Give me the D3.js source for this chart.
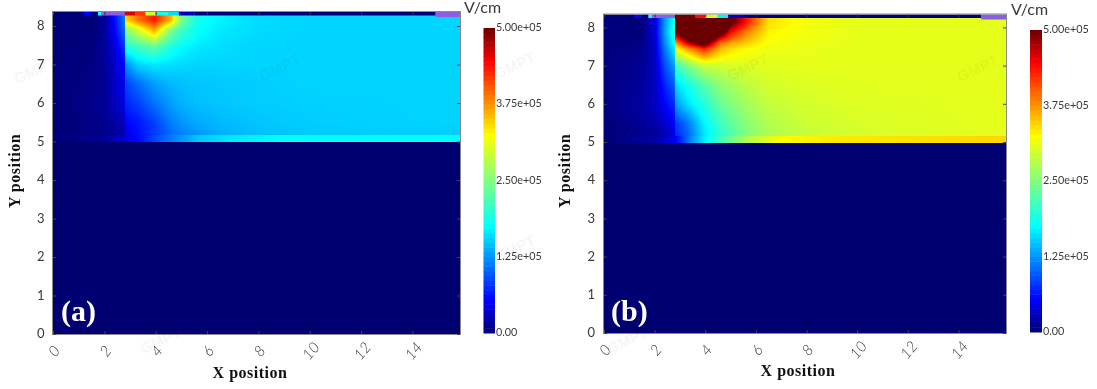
<!DOCTYPE html>
<html><head><meta charset="utf-8">
<script src="https://cdn.jsdelivr.net/npm/d3@7"></script>
<style>
html,body{margin:0;padding:0;background:#fff;overflow:hidden}
#wrap{position:relative;width:1097px;height:389px;filter:blur(.4px)}
canvas{position:absolute}
svg{position:absolute;left:0;top:0}
</style></head><body><div id="wrap"></div>
<script>
// Electric field, in units of 1e5 V/cm at nodes of a coarse mesh.
// Values above 5 saturate the colour scale, as the darkest region of panel (b) does.
const xNodes=[0,0.5,1,1.5,2,2.4,2.79,2.81,3.3,3.95,4.6,5.0,5.6,6.5,8,10,16];
const yNodes=[8.15,7.9,7.6,7.45,7,6.5,6,5.5,5.18];
const bandY=[5.17,5.0];
const fieldA=[
[.03,.03,.03,.02,.15,.60,1.15,3.40,3.90,4.35,3.60,2.50,1.85,1.70,1.58,1.55,1.55],
[.03,.03,.03,.02,.15,.55,1.05,2.50,3.00,3.70,2.50,2.10,1.80,1.65,1.58,1.55,1.55],
[.03,.03,.04,.04,.15,.45,.90,2.10,2.40,2.75,2.10,1.90,1.70,1.62,1.56,1.55,1.55],
[.03,.03,.04,.05,.15,.42,.80,1.90,2.10,2.30,1.90,1.75,1.65,1.60,1.55,1.55,1.55],
[.03,.04,.05,.06,.15,.35,.60,1.20,1.55,1.65,1.60,1.58,1.55,1.55,1.55,1.55,1.55],
[.03,.05,.06,.08,.15,.32,.50,.85,1.05,1.30,1.42,1.45,1.48,1.50,1.52,1.55,1.55],
[.03,.05,.07,.10,.15,.30,.45,.70,.85,1.10,1.30,1.40,1.45,1.48,1.52,1.53,1.55],
[.02,.04,.06,.08,.12,.20,.30,.55,.65,.85,1.15,1.25,1.35,1.42,1.48,1.52,1.55],
[.02,.03,.05,.07,.10,.15,.25,.45,.60,.80,1.05,1.15,1.25,1.38,1.45,1.50,1.52]];
const fieldB=[
[.05,.05,.03,.05,.40,1.25,1.90,7.00,7.00,7.00,7.00,5.20,4.40,3.40,3.18,3.10,3.10],
[.05,.05,.03,.05,.40,1.30,2.00,5.00,6.20,7.00,5.50,4.50,3.90,3.30,3.18,3.10,3.10],
[.05,.05,.05,.08,.35,1.20,1.85,3.60,4.60,5.40,3.90,3.70,3.50,3.20,3.15,3.10,3.10],
[.05,.06,.07,.10,.32,1.10,1.70,3.20,3.70,4.30,3.60,3.40,3.25,3.15,3.12,3.10,3.10],
[.05,.08,.10,.15,.30,.90,1.30,2.05,2.45,2.90,2.95,3.00,3.05,3.08,3.10,3.10,3.10],
[.05,.09,.12,.18,.30,.70,1.00,1.55,1.85,2.25,2.60,2.70,2.85,3.00,3.05,3.08,3.10],
[.05,.10,.15,.20,.30,.55,.75,1.25,1.60,1.95,2.35,2.50,2.70,2.90,3.00,3.05,3.10],
[.03,.07,.10,.15,.22,.35,.55,.80,1.10,1.70,2.10,2.30,2.55,2.80,2.95,3.02,3.10],
[.02,.05,.08,.10,.15,.25,.40,.70,1.00,1.60,2.00,2.20,2.50,2.75,2.90,3.00,3.10]];
const bandXNodes=[0,2,2.8,3.5,4,4.8,5.7,7,9,16];
const bandA=[.03,.15,.40,.65,.90,1.20,1.50,1.65,1.75,1.75];
const bandB=[.03,.20,.50,1.25,1.70,2.25,2.80,3.25,3.35,3.45];
// Contact strip along the top of the device
const stripStart=[0,1.2,1.5,1.75,1.9,2.8,3.2,3.6,4.0,4.5,4.9,5.5,14.9];
const stripEnd=[1.2,1.5,1.75,1.9,2.8,3.2,3.6,4.0,4.5,4.9,5.5,14.9,15.9];
const stripKind=["f","f","f","f","m","f","f","f","f","f","f","f","m"];
const stripValuesA=[.02,.55,.05,1.8,0,4.6,4.2,3.0,1.9,1.6,.3,.05,0];
const stripValuesB=[.02,.55,.05,1.8,0,5,5,4.4,3.0,1.7,.3,.05,0];
const xTicks=[0,2,4,6,8,10,12,14];
const yTicks=[0,1,2,3,4,5,6,7,8];
const barTicks=[0,1.25,2.5,3.75,5];
const barLabels=["0.00","1.25e+05","2.50e+05","3.75e+05","5.00e+05"];
const xLabel="X position",yLabel="Y position",unitLabel="V/cm";
const watermarks=[[37,75],[282,72],[517,70],[750,72],[980,73],[163,345],[517,253],[630,345]];

const stops=[0,.11,.35,.65,.89,1],stopCols=["#000070","#0000ff","#00ffff","#ffff00","#ff0000","#6a0000"];
const color=d3.scaleLinear().domain(stops.map(d=>d*5)).range(stopCols).interpolate(d3.interpolateRgb).clamp(true);

const panels=[
 {name:"(a)",field:fieldA,band:bandA,strip:stripValuesA,left:53,right:460,y0:334,y5:141.5,top:12,xMax:15.85,
  yTx:44.5,yTitleX:15,xTitleX:250,xTitleY:378,barL:483.5,barR:495,barT:28,barB:333,unitX:464,unitY:13,nameX:61,nameY:321,purple:"#8a5fe0"},
 {name:"(b)",field:fieldB,band:bandB,strip:stripValuesB,left:604,right:1006,y0:333,y5:142,top:14.5,xMax:15.88,
  yTx:595,yTitleX:565,xTitleX:798,xTitleY:376,barL:1030,barR:1042,barT:30,barB:332,unitX:1011,unitY:15,nameX:611,nameY:321,purple:"#8a5fe0"}
];

const wrap=d3.select("#wrap");
panels.forEach(p=>{
  const w=p.right-p.left,h=p.y0-p.top;
  p.x=d3.scaleLinear().domain([0,p.xMax]).range([p.left,p.right]);
  p.y=d3.scaleLinear().domain([0,5]).range([p.y0,p.y5]);
  const cv=wrap.append("canvas").attr("width",w).attr("height",h)
    .style("left",p.left+"px").style("top",p.top+"px");
  const ctx=cv.node().getContext("2d");
  const img=ctx.createImageData(w,h);
  const seg=(arr,v)=>{
    let i=d3.bisectRight(arr,v)-1; i=Math.max(0,Math.min(arr.length-2,i));
    return [i,Math.max(0,Math.min(1,(v-arr[i])/(arr[i+1]-arr[i])))];
  };
  const yAsc=yNodes.slice().reverse();
  for(let py=0;py<h;py++){
    const yv=p.y.invert(p.top+py+.5);
    for(let px=0;px<w;px++){
      const xv=p.x.invert(p.left+px+.5);
      let val=0;
      if(yv>=5.17){
        const [i,tx]=seg(xNodes,xv),[j0,ty]=seg(yAsc,Math.min(yv,8.15));
        const ja=yNodes.length-1-j0,jb=ja-1;
        val=(1-ty)*((1-tx)*p.field[ja][i]+tx*p.field[ja][i+1])+ty*((1-tx)*p.field[jb][i]+tx*p.field[jb][i+1]);
      }else if(yv>=bandY[1]){
        const [i,tx]=seg(bandXNodes,xv);
        val=(1-tx)*p.band[i]+tx*p.band[i+1];
      }
      const c=d3.rgb(color(val)),k=(py*w+px)*4;
      img.data[k]=c.r;img.data[k+1]=c.g;img.data[k+2]=c.b;img.data[k+3]=255;
    }
  }
  ctx.putImageData(img,0,0);
});

const svg=wrap.append("svg").attr("width",1097).attr("height",389);
const tickFont="Lato, 'Open Sans', sans-serif",serif="'Liberation Serif', serif";

panels.forEach(p=>{
  const g=svg.append("g");
  const strip=d3.range(stripStart.length);
  g.selectAll("rect.s").data(strip).join("rect").attr("class","s")
    .attr("x",i=>p.x(stripStart[i])).attr("width",i=>p.x(Math.min(stripEnd[i],p.xMax))-p.x(stripStart[i]))
    .attr("y",p.top).attr("height",i=>i===stripKind.length-1?5:3.5)
    .attr("fill",i=>stripKind[i]==="m"?p.purple:color(p.strip[i]));
  g.append("rect").attr("x",p.left-.5).attr("y",p.top-.5).attr("width",p.right-p.left+1).attr("height",p.y0-p.top+1)
    .attr("fill","none").attr("stroke","#8a8a8a").attr("stroke-width",1);
  const ax=d3.axisBottom(p.x).tickValues(xTicks).tickSize(-3).tickFormat(d3.format("d"));
  const gx=g.append("g").attr("transform",`translate(0,${p.y0})`).call(ax);
  gx.select(".domain").remove();
  gx.selectAll("line").attr("stroke","#444");
  gx.selectAll("text").attr("font-family",tickFont).attr("font-size",15).attr("font-style","italic").attr("font-weight",300)
    .attr("fill","#3a3a3a").attr("text-anchor","middle").attr("dy",0).attr("y",0)
    .attr("dominant-baseline","central").attr("transform","translate(0,16.5) rotate(-50)");
  const ay=d3.axisLeft(p.y).tickValues(yTicks).tickSize(-3).tickFormat(d3.format("d"));
  const gy=g.append("g").attr("transform",`translate(${p.left},0)`).call(ay);
  gy.select(".domain").remove();
  gy.selectAll("line").attr("stroke","#444");
  gy.selectAll("text").attr("font-family",tickFont).attr("font-size",13).attr("fill","#3a3a3a")
    .attr("x",p.yTx-p.left).attr("text-anchor","end").attr("dy","0.28em");
  const ar=d3.axisRight(p.y).tickValues(yTicks).tickSize(-3).tickFormat("");
  const gr=g.append("g").attr("transform",`translate(${p.right},0)`).call(ar);
  gr.select(".domain").remove();gr.selectAll("line").attr("stroke","#444");
  const at=d3.axisTop(p.x).tickValues(xTicks).tickSize(-3).tickFormat("");
  const gt=g.append("g").attr("transform",`translate(0,${p.top})`).call(at);
  gt.select(".domain").remove();gt.selectAll("line").attr("stroke","#333");
  g.append("text").text(xLabel).attr("x",p.xTitleX).attr("y",p.xTitleY).attr("text-anchor","middle")
    .attr("font-family",serif).attr("font-weight",700).attr("font-size",16).attr("letter-spacing",.5).attr("fill","#111");
  g.append("text").text(yLabel).attr("transform",`translate(${p.yTitleX+5},171) rotate(-90)`).attr("text-anchor","middle")
    .attr("font-family",serif).attr("font-weight",700).attr("font-size",16).attr("letter-spacing",.5).attr("fill","#111");
  g.append("text").text(p.name).attr("x",p.nameX).attr("y",p.nameY).attr("font-family",serif).attr("font-weight",700)
    .attr("font-size",30).attr("fill","#fff");
  const bs=d3.scaleLinear().domain([0,5]).range([p.barB,p.barT]);
  const levels=d3.range(0,5,5/64);
  g.selectAll("rect.b").data(levels).join("rect").attr("class","b").attr("x",p.barL).attr("width",p.barR-p.barL)
    .attr("y",d=>bs(d+5/64)).attr("height",d=>bs(d)-bs(d+5/64)+.5).attr("fill",d=>color(d+2.5/64));
  g.selectAll("text.bl").data(barTicks).join("text").attr("class","bl").text((d,i)=>barLabels[i])
    .attr("x",p.barR+1).attr("y",d=>bs(d)+3).attr("font-family",tickFont).attr("font-size",10.8).attr("fill","#3a3a3a");
  g.append("text").text(unitLabel).attr("x",p.unitX).attr("y",p.unitY).attr("font-family",tickFont).attr("font-size",16).attr("fill","#3a3a3a");
});
svg.append("g").selectAll("text").data(watermarks).join("text").text("GMPT")
  .attr("transform",d=>`translate(${d[0]},${d[1]}) rotate(-25)`).attr("text-anchor","middle")
  .attr("font-family","'Liberation Sans',sans-serif").attr("font-weight",700).attr("font-size",15).attr("fill","#000").attr("opacity",.035);
</script></body></html>
